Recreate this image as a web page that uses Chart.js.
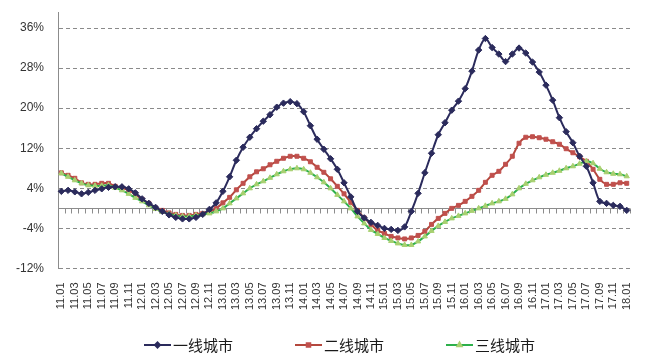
<!DOCTYPE html>
<html>
<head>
<meta charset="utf-8">
<script src="https://cdn.jsdelivr.net/npm/chart.js@4/dist/chart.umd.min.js"></script>
<style>
  html, body { margin: 0; padding: 0; background: #fff; }
  #wrap { width: 654px; height: 360px; }
</style>
</head>
<body>
<div id="wrap"><canvas id="canvas"></canvas></div>
<script>
// months 2011.01 .. 2018.01
let labels = [];
for (let yr = 11; yr <= 18; yr++) {
  for (let m = 1; m <= 12; m++) {
    if (yr === 18 && m > 1) break;
    labels.push(yr + '.' + (m < 10 ? '0' + m : m));
  }
}

const seriesNames = ['一线城市', '二线城市', '三线城市'];
const yTicks = [-12, -4, 4, 12, 20, 28, 36];

const tier1 = [3.4, 3.6, 3.3, 2.9, 3.2, 3.6, 3.9, 4.2, 4.3, 4.3, 3.9, 3.1, 1.9, 1.0, 0.2, -0.6, -1.3, -1.8, -2.1, -2.1, -1.8, -1.2, -0.2, 1.1, 3.4, 6.3, 9.6, 12.2, 14.2, 15.9, 17.4, 18.7, 20.2, 21.0, 21.3, 20.9, 19.3, 16.5, 13.8, 11.8, 9.9, 7.8, 5.1, 2.3, -0.6, -1.9, -2.8, -3.4, -4.0, -4.2, -4.4, -3.7, -0.6, 3.0, 7.1, 11.0, 14.7, 17.1, 19.6, 21.4, 23.9, 27.4, 31.6, 33.9, 32.1, 30.8, 29.3, 30.8, 32.0, 31.0, 29.2, 27.2, 24.6, 21.6, 18.1, 15.3, 13.1, 10.4, 8.4, 5.1, 1.4, 1.0, 0.6, 0.4, -0.4];
const tier2 = [7.1, 6.6, 6.0, 5.1, 4.8, 4.8, 5.0, 5.0, 4.4, 4.1, 3.6, 2.8, 1.8, 1.0, 0.1, -0.4, -0.9, -1.2, -1.4, -1.4, -1.2, -1.0, -0.7, 0.0, 1.1, 2.2, 3.7, 5.0, 6.3, 7.3, 7.9, 8.7, 9.4, 10.0, 10.4, 10.4, 10.0, 9.3, 8.2, 7.2, 5.9, 4.4, 2.9, 1.2, -0.4, -1.9, -3.2, -4.4, -5.0, -5.6, -5.9, -6.1, -5.9, -5.4, -4.6, -3.2, -2.0, -1.0, 0.0, 0.6, 1.4, 2.4, 3.6, 5.2, 6.6, 7.4, 8.8, 10.4, 13.0, 14.2, 14.3, 14.1, 13.8, 13.3, 12.8, 11.9, 11.1, 10.3, 9.4, 7.8, 5.8, 4.8, 4.8, 5.1, 5.0];
const tier3 = [7.0, 6.3, 5.6, 5.0, 4.6, 4.5, 4.5, 4.6, 4.1, 3.6, 2.9, 2.1, 1.4, 0.6, -0.1, -0.7, -1.1, -1.4, -1.6, -1.6, -1.4, -1.2, -1.0, -0.6, 0.0, 1.0, 2.0, 3.0, 4.0, 4.8, 5.4, 6.1, 6.8, 7.4, 7.8, 8.0, 7.8, 7.1, 6.2, 5.2, 4.0, 2.7, 1.4, 0.0, -1.6, -3.0, -4.3, -5.1, -5.9, -6.5, -7.0, -7.3, -7.3, -6.6, -5.6, -4.5, -3.5, -2.7, -2.0, -1.5, -1.0, -0.5, 0.0, 0.5, 1.0, 1.4, 1.9, 2.8, 4.0, 4.9, 5.6, 6.2, 6.7, 7.1, 7.5, 8.0, 8.4, 8.9, 9.4, 9.0, 7.9, 7.2, 6.9, 6.8, 6.4];

const FONT = "'Liberation Sans', Arial, sans-serif";

// solid zero line with small category ticks, like the Excel axis
const zeroAxis = {
  id: 'zeroAxis',
  beforeDatasetsDraw(chart) {
    const {ctx, chartArea, scales: {x, y}} = chart;
    const y0 = Math.round(y.getPixelForValue(0)) + 0.5;
    const half = (x.getPixelForValue(1) - x.getPixelForValue(0)) / 2;
    ctx.save();
    ctx.strokeStyle = '#8c8c8c';
    ctx.lineWidth = 1;
    ctx.beginPath();
    ctx.moveTo(chartArea.left, y0);
    ctx.lineTo(chartArea.right, y0);
    for (let i = 0; i <= labels.length; i++) {
      let px = Math.round(x.getPixelForValue(i) - half) + 0.5;
      ctx.moveTo(px, y0);
      ctx.lineTo(px, y0 + 5);
    }
    ctx.stroke();
    ctx.restore();
  }
};

// legend: short line with the series marker, then the name
const lineLegend = {
  id: 'lineLegend',
  afterDraw(chart) {
    const ctx = chart.ctx;
    const startX = chart.chartArea.left + 86;
    const yMid = chart.height - 15;
    chart.data.datasets.forEach((ds, i) => {
      const lx = startX + i * 151;
      ctx.save();
      ctx.strokeStyle = ds.borderColor;
      ctx.lineWidth = 2;
      ctx.beginPath();
      ctx.moveTo(lx, yMid);
      ctx.lineTo(lx + 27, yMid);
      ctx.stroke();
      ctx.fillStyle = ds.pointBackgroundColor;
      ctx.strokeStyle = ds.pointBorderColor;
      Chart.helpers.drawPoint(ctx, {pointStyle: ds.pointStyle, radius: 2.5, borderWidth: 1, rotation: 0}, lx + 13.5, yMid);
      ctx.fillStyle = '#1a1a1a';
      ctx.font = "15px 'Noto Sans CJK SC', sans-serif";
      ctx.textBaseline = 'middle';
      ctx.fillText(ds.label, lx + 29, yMid);
      ctx.restore();
    });
  }
};

let ctx = document.getElementById('canvas').getContext('2d');
let chart = new Chart(ctx, {
  type: 'line',
  data: {
    labels: labels,
    datasets: [
      {label: seriesNames[0], data: tier1, borderColor: '#2b2b5c', borderWidth: 2, pointStyle: 'rectRot', pointRadius: 3.2, pointBackgroundColor: '#2b2b5c', pointBorderColor: '#2b2b5c', pointBorderWidth: 1, tension: 0.3, order: 0},
      {label: seriesNames[1], data: tier2, borderColor: '#b4473d', borderWidth: 2, pointStyle: 'rect', pointRadius: 2.8, pointBackgroundColor: '#c0504d', pointBorderColor: '#c0504d', pointBorderWidth: 1, tension: 0.3, order: 2},
      {label: seriesNames[2], data: tier3, borderColor: '#2db04b', borderWidth: 2, pointStyle: 'triangle', pointRadius: 3, pointBackgroundColor: '#a8d070', pointBorderColor: '#a8d070', pointBorderWidth: 1, tension: 0.3, order: 1}
    ]
  },
  options: {
    responsive: true,
    maintainAspectRatio: false,
    animation: false,
    layout: {padding: {left: 15, right: 12, top: 12, bottom: 36}},
    plugins: {legend: {display: false}, tooltip: {enabled: false}},
    scales: {
      x: {
        offset: true,
        grid: {display: false, drawTicks: false},
        border: {display: false},
        ticks: {
          autoSkip: false, maxRotation: 90, minRotation: 90, padding: 14,
          color: '#333', font: {family: FONT, size: 11},
          callback: (v, i) => (i % 2 === 0 ? labels[i] : '')
        }
      },
      y: {
        min: -12,
        max: 39.2,
        afterBuildTicks: (scale) => { scale.ticks = yTicks.map(v => ({value: v})); },
        afterFit: (scale) => { scale.width = 43; },
        grid: {color: '#8a8a8a', drawTicks: true, tickLength: 14, tickColor: 'rgba(0,0,0,0)'},
        border: {display: true, color: '#8c8c8c', dash: [4, 3]},
        ticks: {padding: 0, color: '#333', font: {family: FONT, size: 12}, callback: v => v + '%'}
      }
    }
  },
  plugins: [zeroAxis, lineLegend]
});
</script>
</body>
</html>
